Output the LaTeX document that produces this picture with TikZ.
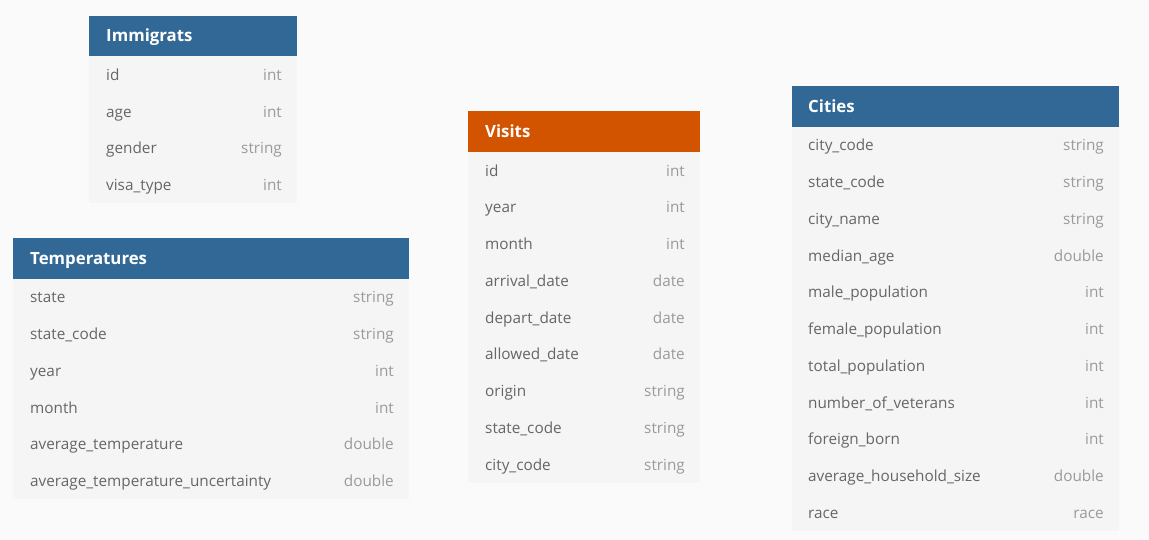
\documentclass[tikz,border=0pt]{standalone}
\usepackage{fontspec}
\setmainfont{Open Sans}
\definecolor{pagebg}{HTML}{FAFAFA}
\definecolor{bodybg}{HTML}{F5F5F5}
\definecolor{hdrblue}{HTML}{316896}
\definecolor{hdrorange}{HTML}{D35400}
\definecolor{namecol}{HTML}{666666}
\definecolor{typecol}{HTML}{9A9A9A}
\tikzset{
  hdr/.style={anchor=north west, inner sep=0pt, minimum height=40.4},
  bodybox/.style={anchor=north west, inner sep=0pt, fill=bodybg},
  title/.style={anchor=base west, inner sep=0pt, text=white, font=\fontsize{16.8}{20}\selectfont\bfseries},
  fname/.style={anchor=base west, inner sep=0pt, text=namecol, font=\fontsize{15.3}{18}\selectfont},
  ftype/.style={anchor=base east, inner sep=0pt, text=typecol, font=\fontsize{15.3}{18}\selectfont},
}
\begin{document}
\begin{tikzpicture}[x=1pt,y=-1pt]
\fill[pagebg] (0,0) rectangle (1149,540);
\useasboundingbox (0,0) rectangle (1149,540);

% Immigrats
\node[hdr, fill=hdrblue, minimum width=208] (imm) at (89,15.5) {};
\node[bodybox, minimum width=208, minimum height=147] (imm-body) at (89,55.9) {};
\node[title] (imm-title) at (106,41.7) {Immigrats};
\foreach [count=\i] \n/\t in {id/int, age/int, gender/string, visa\_type/int} {
  \node[fname] (imm-\i) at (106,{55.9+18.4+36.75*(\i-1)+6}) {\n};
  \node[ftype] (imm-\i-t) at (282,{55.9+18.4+36.75*(\i-1)+6}) {\t};
}

% Temperatures
\node[hdr, fill=hdrblue, minimum width=396] (tmp) at (13,238) {};
\node[bodybox, minimum width=396, minimum height=220.5] (tmp-body) at (13,278.4) {};
\node[title] (tmp-title) at (30,264.2) {Temperatures};
\foreach [count=\i] \n/\t in {state/string, state\_code/string, year/int, month/int, average\_temperature/double, average\_temperature\_uncertainty/double} {
  \node[fname] (tmp-\i) at (30,{278.4+18.4+36.75*(\i-1)+6}) {\n};
  \node[ftype] (tmp-\i-t) at (394,{278.4+18.4+36.75*(\i-1)+6}) {\t};
}

% Visits
\node[hdr, fill=hdrorange, minimum width=232] (vis) at (468,111.3) {};
\node[bodybox, minimum width=232, minimum height=330.75] (vis-body) at (468,151.7) {};
\node[title] (vis-title) at (485,137.5) {Visits};
\foreach [count=\i] \n/\t in {id/int, year/int, month/int, arrival\_date/date, depart\_date/date, allowed\_date/date, origin/string, state\_code/string, city\_code/string} {
  \node[fname] (vis-\i) at (485,{151.7+18.4+36.75*(\i-1)+6}) {\n};
  \node[ftype] (vis-\i-t) at (685,{151.7+18.4+36.75*(\i-1)+6}) {\t};
}

% Cities
\node[hdr, fill=hdrblue, minimum width=327.5] (cit) at (791.7,86) {};
\node[bodybox, minimum width=327.5, minimum height=404.25] (cit-body) at (791.7,126.4) {};
\node[title] (cit-title) at (808,112.2) {Cities};
\foreach [count=\i] \n/\t in {city\_code/string, state\_code/string, city\_name/string, median\_age/double, male\_population/int, female\_population/int, total\_population/int, number\_of\_veterans/int, foreign\_born/int, average\_household\_size/double, race/race} {
  \node[fname] (cit-\i) at (808,{126.4+18.4+36.75*(\i-1)+6}) {\n};
  \node[ftype] (cit-\i-t) at (1104,{126.4+18.4+36.75*(\i-1)+6}) {\t};
}
\end{tikzpicture}
\end{document}
